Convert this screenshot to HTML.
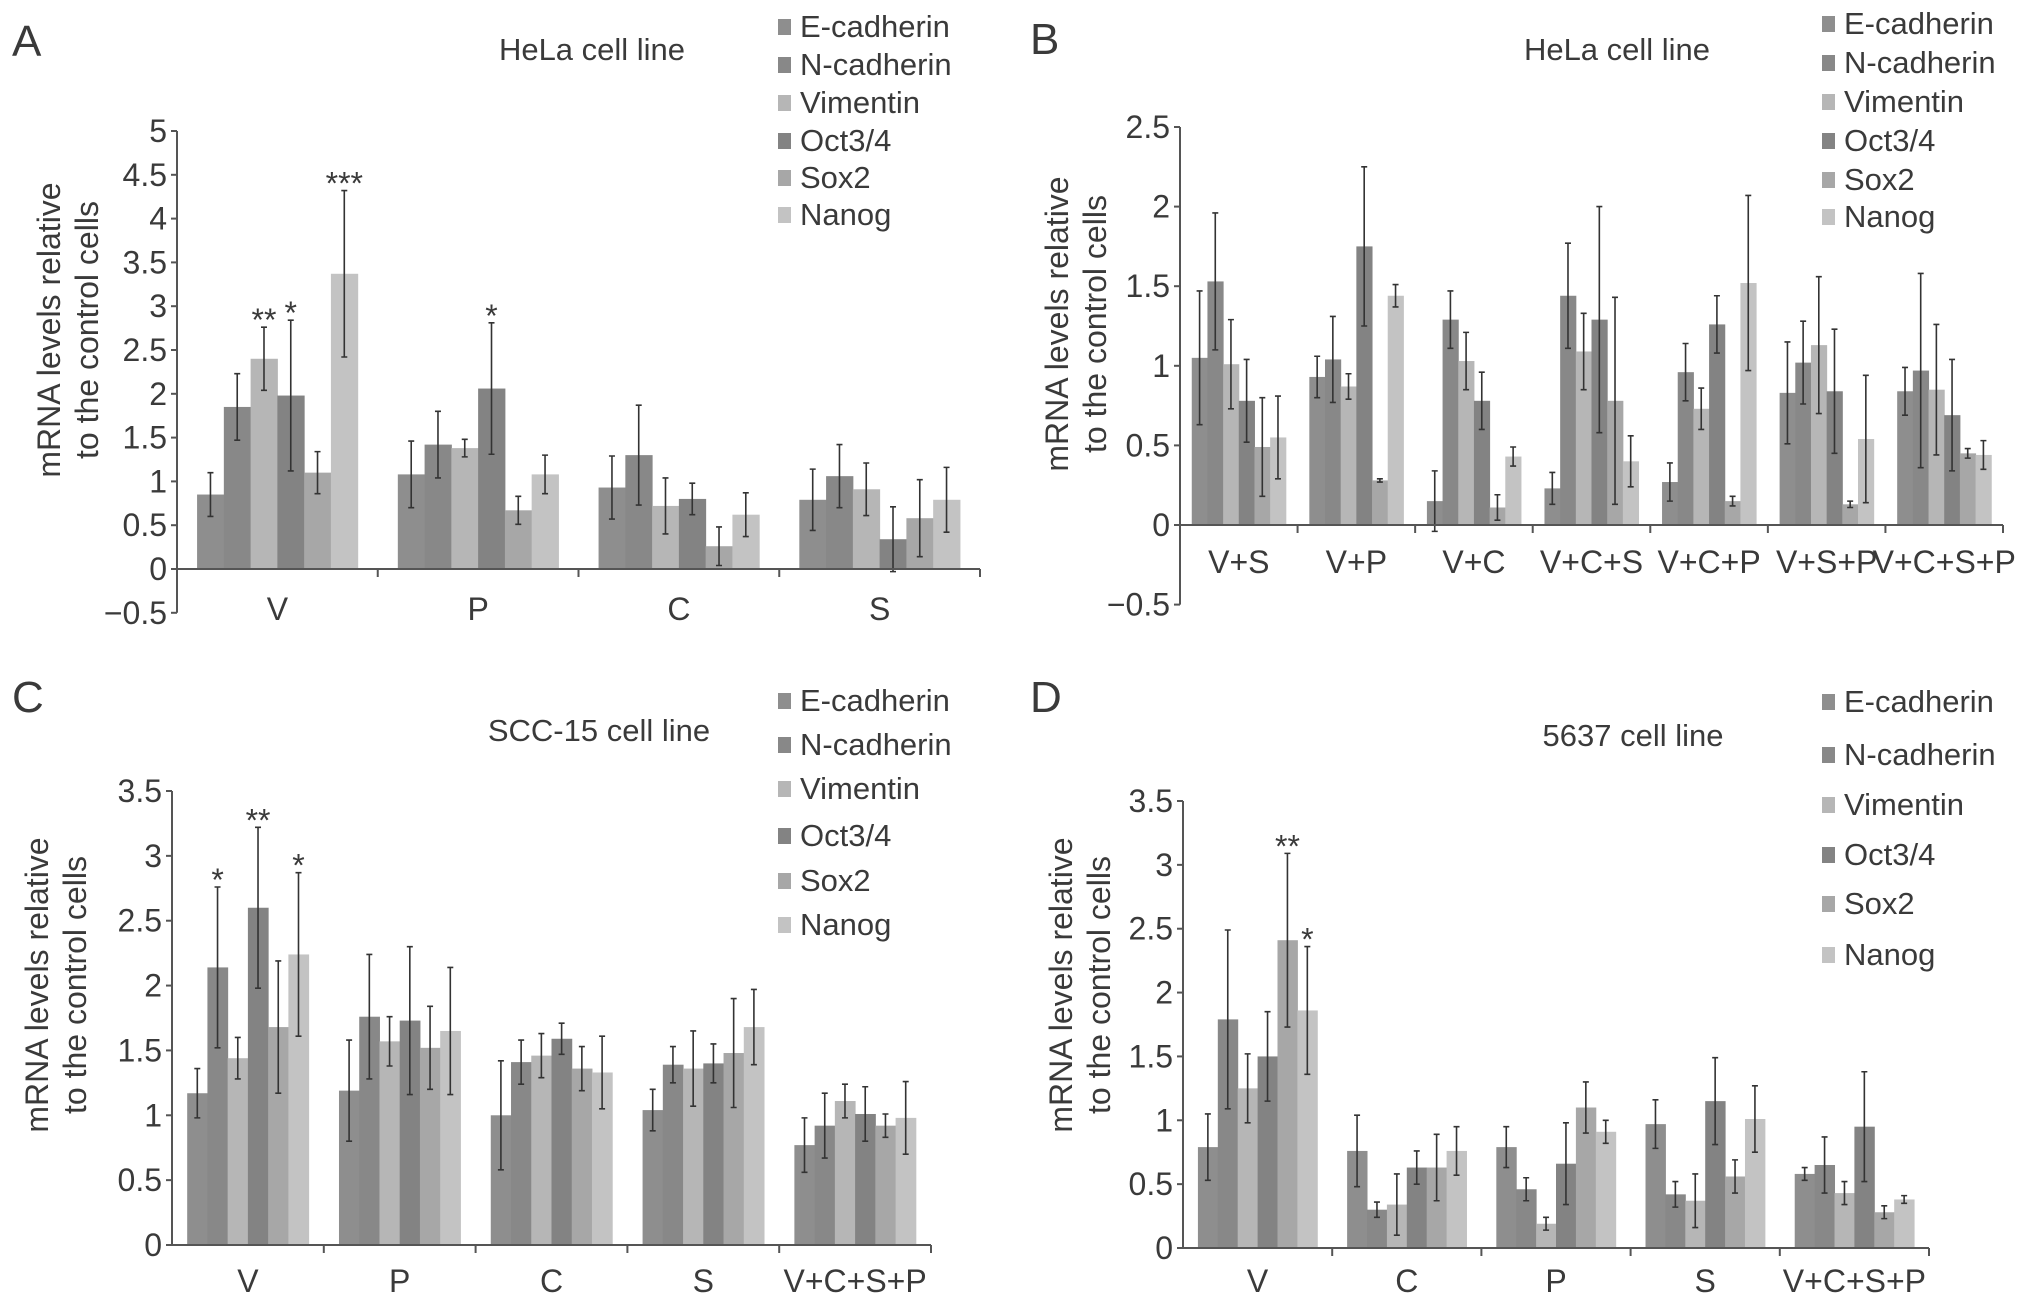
<!DOCTYPE html>
<html><head><meta charset="utf-8"><style>
body{margin:0;background:#fff;}
svg{display:block;font-family:"Liberation Sans",sans-serif;}
text{fill:#3a3a3a;}
</style></head><body>
<svg id="fig" width="2032" height="1310" viewBox="0 0 2032 1310" xmlns="http://www.w3.org/2000/svg"></svg>
<script>
const seriesNames=["E-cadherin","N-cadherin","Vimentin","Oct3/4","Sox2","Nanog"];
const seriesColors=["#8e8e8e","#888888","#b6b6b6","#838383","#a7a7a7","#c3c3c3"];

const catsA=["V","P","C","S"];
const valsA=[[0.85,1.85,2.4,1.98,1.1,3.37],[1.08,1.42,1.38,2.06,0.67,1.08],[0.93,1.3,0.72,0.8,0.26,0.62],[0.79,1.06,0.91,0.34,0.58,0.79]];
const errsA=[[0.25,0.38,0.36,0.86,0.24,0.95],[0.38,0.38,0.1,0.75,0.16,0.22],[0.36,0.57,0.32,0.18,0.22,0.25],[0.35,0.36,0.3,0.37,0.44,0.37]];
const starsA=[["","","**","*","","***"],["","","","*","",""],["","","","","",""],["","","","","",""]];
const ticksA=[-0.5,0,0.5,1,1.5,2,2.5,3,3.5,4,4.5,5];

const catsB=["V+S","V+P","V+C","V+C+S","V+C+P","V+S+P","V+C+S+P"];
const valsB=[[1.05,1.53,1.01,0.78,0.49,0.55],[0.93,1.04,0.87,1.75,0.28,1.44],[0.15,1.29,1.03,0.78,0.11,0.43],[0.23,1.44,1.09,1.29,0.78,0.4],[0.27,0.96,0.73,1.26,0.15,1.52],[0.83,1.02,1.13,0.84,0.13,0.54],[0.84,0.97,0.85,0.69,0.45,0.44]];
const errsB=[[0.42,0.43,0.28,0.26,0.31,0.26],[0.13,0.27,0.08,0.5,0.01,0.07],[0.19,0.18,0.18,0.18,0.08,0.06],[0.1,0.33,0.24,0.71,0.65,0.16],[0.12,0.18,0.13,0.18,0.03,0.55],[0.32,0.26,0.43,0.39,0.02,0.4],[0.15,0.61,0.41,0.35,0.03,0.09]];
const ticksB=[-0.5,0,0.5,1,1.5,2,2.5];

const catsC=["V","P","C","S","V+C+S+P"];
const valsC=[[1.17,2.14,1.44,2.6,1.68,2.24],[1.19,1.76,1.57,1.73,1.52,1.65],[1.0,1.41,1.46,1.59,1.36,1.33],[1.04,1.39,1.36,1.4,1.48,1.68],[0.77,0.92,1.11,1.01,0.92,0.98]];
const errsC=[[0.19,0.62,0.16,0.62,0.51,0.63],[0.39,0.48,0.19,0.57,0.32,0.49],[0.42,0.17,0.17,0.12,0.17,0.28],[0.16,0.14,0.29,0.15,0.42,0.29],[0.21,0.25,0.13,0.21,0.09,0.28]];
const starsC=[["","*","","**","","*"],["","","","","",""],["","","","","",""],["","","","","",""],["","","","","",""]];
const ticksC=[0,0.5,1,1.5,2,2.5,3,3.5];

const catsD=["V","C","P","S","V+C+S+P"];
const valsD=[[0.79,1.79,1.25,1.5,2.41,1.86],[0.76,0.3,0.34,0.63,0.63,0.76],[0.79,0.46,0.19,0.66,1.1,0.91],[0.97,0.42,0.37,1.15,0.56,1.01],[0.58,0.65,0.43,0.95,0.28,0.38]];
const errsD=[[0.26,0.7,0.27,0.35,0.68,0.5],[0.28,0.06,0.24,0.13,0.26,0.19],[0.16,0.09,0.05,0.32,0.2,0.09],[0.19,0.1,0.21,0.34,0.13,0.26],[0.05,0.22,0.09,0.43,0.05,0.03]];
const starsD=[["","","","","**","*"],["","","","","",""],["","","","","",""],["","","","","",""],["","","","","",""]];
const ticksD=[0,0.5,1,1.5,2,2.5,3,3.5];

const NS="http://www.w3.org/2000/svg";
const svg=document.getElementById('fig');
function mk(tag,attrs,parent,txt){const e=document.createElementNS(NS,tag);for(const k in attrs)e.setAttribute(k,attrs[k]);if(txt!==undefined)e.textContent=txt;(parent||svg).appendChild(e);return e;}

function panel(p){
  const g=mk('g',{});
  
  
  const yMin=p.ticks[0],yMax=p.ticks[p.ticks.length-1];
  const y=v=>p.y0-(v-0)*(p.y0-p.yTop)/yMax;
  const gw=(p.x1-p.x0)/p.cats.length;
  const bw=gw*0.8/6;
  const L=mk('text',{x:p.lx,y:p.ly,'font-size':44,fill:'#222'},g,p.id);
  
  
  const T=mk('text',{x:p.tx,y:p.ty,'font-size':31,'text-anchor':'middle'},g,p.title);
  
  
  const yt=mk('text',{transform:`translate(${p.ytx},${p.yty}) rotate(-90)`,'font-size':32,'text-anchor':'middle'},g);
  
  
  mk('tspan',{x:0,dy:0},yt,'mRNA levels relative');
  mk('tspan',{x:0,dy:38},yt,'to the control cells');
  p.vals.forEach((row,ci)=>{
    const gx=p.x0+ci*gw+gw*0.1;
    row.forEach((v,si)=>{
      const bx=gx+si*bw;
      const r=mk('rect',{x:bx,y:Math.min(y(v),y(0)),width:bw+0.5,height:Math.abs(y(0)-y(v)),fill:seriesColors[si]},g);
      
      
      const e=p.errs[ci][si],cx=bx+bw/2;
      const eb=mk('path',{d:`M${cx},${y(v+e)}V${y(v-e)}M${cx-3},${y(v+e)}H${cx+3}M${cx-3},${y(v-e)}H${cx+3}`,stroke:'#333','stroke-width':1.6,fill:'none'},g);
      
      
      if(p.stars&&p.stars[ci][si]){
        const s=mk('text',{x:cx,y:y(v+e)+4,'font-size':32,'text-anchor':'middle',fill:'#222'},g,p.stars[ci][si]);
        
        
      }
    });
    const xl=mk('text',{x:p.x0+(ci+0.5)*gw,y:p.xly,'font-size':32,'text-anchor':'middle'},g,p.cats[ci]);
    
    
  });
  const ax=mk('path',{d:`M${p.x0},${y(yMin)}V${y(yMax)}`,stroke:'#555','stroke-width':2,fill:'none'},g);
  
  
  p.ticks.forEach(t=>{
    mk('path',{d:`M${p.x0-6},${y(t)}H${p.x0}`,stroke:'#555','stroke-width':2},g);
    const tl=mk('text',{x:p.x0-10,y:y(t)+11,'font-size':32,'text-anchor':'end'},g,t<0?'\u2212'+Math.abs(t):String(t));
    
    
  });
  const xa=mk('path',{d:`M${p.x0},${y(0)}H${p.x1}`,stroke:'#555','stroke-width':2,fill:'none'},g);
  
  
  for(let i=1;i<=p.cats.length;i++)mk('path',{d:`M${p.x0+i*gw},${y(0)}V${y(0)+8}`,stroke:'#555','stroke-width':2},g);
  seriesNames.forEach((n,i)=>{
    const ly=p.legY[i];
    const le=mk('g',{},g);
    
    
    mk('rect',{x:p.legX,y:ly-18,width:13,height:16,fill:seriesColors[i]},le);
    mk('text',{x:p.legX+22,y:ly,'font-size':31},le,n);
  });
}

panel({id:'A',title:'HeLa cell line',cats:catsA,vals:valsA,errs:errsA,stars:starsA,ticks:ticksA,
  x0:177,x1:980,y0:569,yTop:131,xly:620,lx:12,ly:56,tx:592,ty:60,ytx:60,yty:330,
  legX:778,legY:[37,75,113,151,188,225]});
panel({id:'B',title:'HeLa cell line',cats:catsB,vals:valsB,errs:errsB,ticks:ticksB,
  x0:1180,x1:2003,y0:525,yTop:127,xly:573,lx:1030,ly:54,tx:1617,ty:60,ytx:1068,yty:324,
  legX:1822,legY:[34,73,112,151,190,227]});
panel({id:'C',title:'SCC-15 cell line',cats:catsC,vals:valsC,errs:errsC,stars:starsC,ticks:ticksC,
  x0:172,x1:931,y0:1245,yTop:791,xly:1292,lx:12,ly:712,tx:599,ty:741,ytx:48,yty:985,
  legX:778,legY:[711,755,799,846,891,935]});
panel({id:'D',title:'5637 cell line',cats:catsD,vals:valsD,errs:errsD,stars:starsD,ticks:ticksD,
  x0:1183,x1:1929,y0:1248,yTop:801,xly:1292,lx:1030,ly:712,tx:1633,ty:746,ytx:1072,yty:985,
  legX:1822,legY:[712,765,815,865,914,965]});
</script>
</body></html>
